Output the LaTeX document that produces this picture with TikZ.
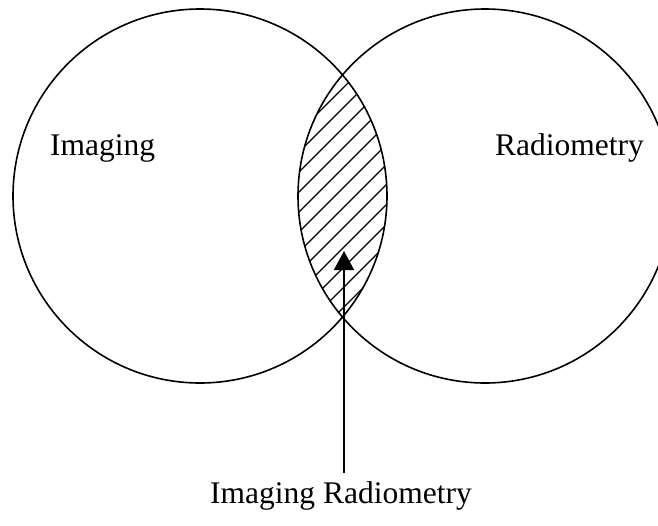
\documentclass[tikz,border=0pt]{standalone}
\usepackage{fontspec}
\setmainfont{Liberation Serif}
\usetikzlibrary{arrows.meta}
\tikzset{
  ring/.style={circle, draw, line width=1.6pt, minimum size=374pt, inner sep=0pt},
  lbl/.style={inner sep=0pt, anchor=base west, font=\fontsize{31.5}{36}\selectfont},
  hatch/.style={line width=1.3pt},
  pointer/.style={line width=1.6pt, -{Triangle[width=20pt,length=19pt]}}
}
\begin{document}
\begin{tikzpicture}[x=1pt,y=-1pt]
\useasboundingbox (0,0) rectangle (658,525);
\clip (0,0) rectangle (658,525);
\node[ring] (L) at (200,196) {};
\node[ring] (R) at (485,196) {};
\begin{scope}
  \clip (L.center) circle (187pt);
  \clip (R.center) circle (187pt);
  \foreach \k in {-12,...,12} {
    \draw[hatch] (193,{148+20*\k+150}) -- (493,{148+20*\k-150});
  }
\end{scope}
\node[lbl] (img) at (50,155) {Imaging};
\node[lbl] (rad) at (495,155) {Radiometry};
\node[lbl] (both) at (210,503) {Imaging Radiometry};
\coordinate (tail) at (344,473);
\coordinate (tip) at (344,251);
\draw[pointer] (tail) -- (tip);
\end{tikzpicture}
\end{document}
